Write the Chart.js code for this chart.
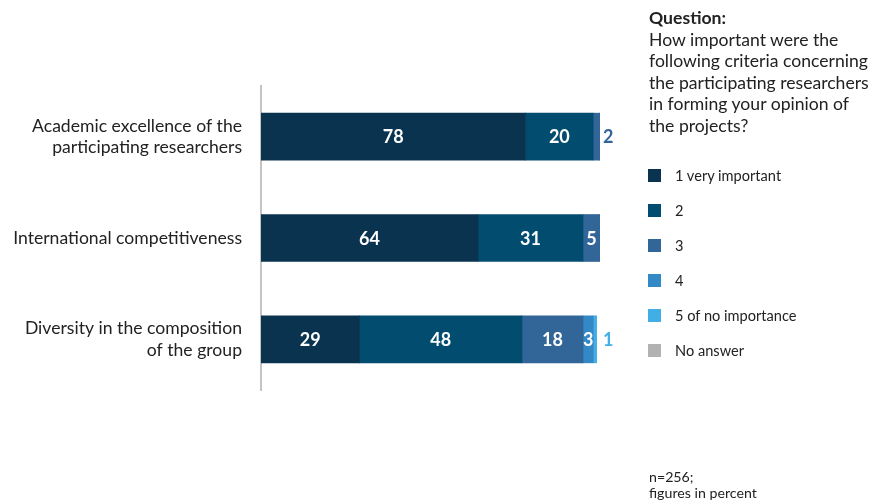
<!DOCTYPE html>
<html>
<head>
<meta charset="utf-8">
<script src="https://cdn.jsdelivr.net/npm/chart.js@4/dist/chart.umd.min.js"></script>
<style>
  html, body { margin: 0; padding: 0; background: #fff; }
  #wrap { position: relative; width: 873px; height: 502px; font-family: Lato, "Open Sans", sans-serif; color: #222; }
  #chart { position: absolute; left: 0; top: 0; }
  #question { position: absolute; left: 649px; top: 7px; font-size: 17.6px; line-height: 21.6px; }
  #question b { font-weight: 700; }
  #legend { position: absolute; left: 648px; top: 168px; font-size: 14.6px; }
  .item { position: absolute; left: 0; height: 16px; white-space: nowrap; }
  .sw { position: absolute; left: 0; top: 1px; width: 13px; height: 13px; }
  .lbl { position: absolute; left: 27px; top: -1px; line-height: 17px; }
  #note { position: absolute; left: 649px; top: 469px; font-size: 14.2px; line-height: 16px; }
</style>
</head>
<body>
<div id="wrap">
  <canvas id="chart" width="873" height="502"></canvas>
  <div id="question"><b>Question:</b><br>How important were the<br>following criteria concerning<br>the participating researchers<br>in forming your opinion of<br>the projects?</div>
  <div id="legend"></div>
  <div id="note">n=256;<br>figures in percent</div>
</div>
<script>
// Survey criteria (rows) and answer shares in percent per rating
const categories = [
  ['Academic excellence of the', 'participating researchers'],
  'International competitiveness',
  ['Diversity in the composition', 'of the group']
];
const seriesNames = ['1 very important', '2', '3', '4', '5 of no importance', 'No answer'];
const veryImportant = [78, 64, 29];
const rating2 = [20, 31, 48];
const rating3 = [2, 5, 18];
const rating4 = [0, 0, 3];
const noImportance = [0, 0, 1];
const noAnswer = [0, 0, 0];

const seriesValues = [veryImportant, rating2, rating3, rating4, noImportance, noAnswer];
const seriesColors = ['#0a3350', '#024c70', '#336698', '#3388c6', '#42aee6', '#b2b2b2'];

// Value labels: white inside the segment, or in the segment colour just past the bar end when too narrow
const valueLabels = {
  id: 'valueLabels',
  afterDatasetsDraw(chart) {
    const ctx = chart.ctx;
    ctx.save();
    ctx.font = 'bold 18px Lato, "Open Sans", sans-serif';
    ctx.textBaseline = 'middle';
    chart.data.datasets.forEach((ds, di) => {
      const meta = chart.getDatasetMeta(di);
      meta.data.forEach((bar, i) => {
        const v = ds.data[i];
        if (!v) return;
        const w = Math.abs(bar.x - bar.base);
        if (w >= 9) {
          ctx.fillStyle = '#ffffff';
          ctx.textAlign = 'center';
          ctx.fillText(String(v), (bar.x + bar.base) / 2, bar.y + 1);
        } else {
          ctx.fillStyle = ds.backgroundColor;
          ctx.textAlign = 'left';
          ctx.fillText(String(v), chart.chartArea.right + 3, bar.y + 1);
        }
      });
    });
    ctx.restore();
  }
};

const chart = new Chart(document.getElementById('chart'), {
  type: 'bar',
  data: {
    labels: categories,
    datasets: seriesNames.map((name, k) => ({
      label: name,
      data: seriesValues[k],
      backgroundColor: seriesColors[k],
      borderWidth: 0,
      barThickness: 47
    }))
  },
  options: {
    indexAxis: 'y',
    responsive: false,
    animation: false,
    layout: { padding: { left: 0, right: 273, top: 86, bottom: 112 } },
    plugins: { legend: { display: false }, tooltip: { enabled: false } },
    scales: {
      x: { stacked: true, min: 0, max: 100, display: false },
      y: {
        stacked: true,
        grid: { display: false, drawTicks: false },
        border: { display: true, color: '#c4c4c4', width: 2 },
        ticks: {
          padding: 19,
          color: '#222',
          font: { family: 'Lato, "Open Sans", sans-serif', size: 17.6, lineHeight: 1.22 }
        },
        afterFit(scale) { scale.width = 261; }
      }
    }
  },
  plugins: [valueLabels]
});

// Legend built from the chart's datasets
const legend = document.getElementById('legend');
chart.data.datasets.forEach((ds, k) => {
  const item = document.createElement('div');
  item.className = 'item';
  item.style.top = (k * 35) + 'px';
  const sw = document.createElement('span');
  sw.className = 'sw';
  sw.style.background = ds.backgroundColor;
  const lbl = document.createElement('span');
  lbl.className = 'lbl';
  lbl.textContent = ds.label;
  item.appendChild(sw);
  item.appendChild(lbl);
  legend.appendChild(item);
});
</script>
</body>
</html>
